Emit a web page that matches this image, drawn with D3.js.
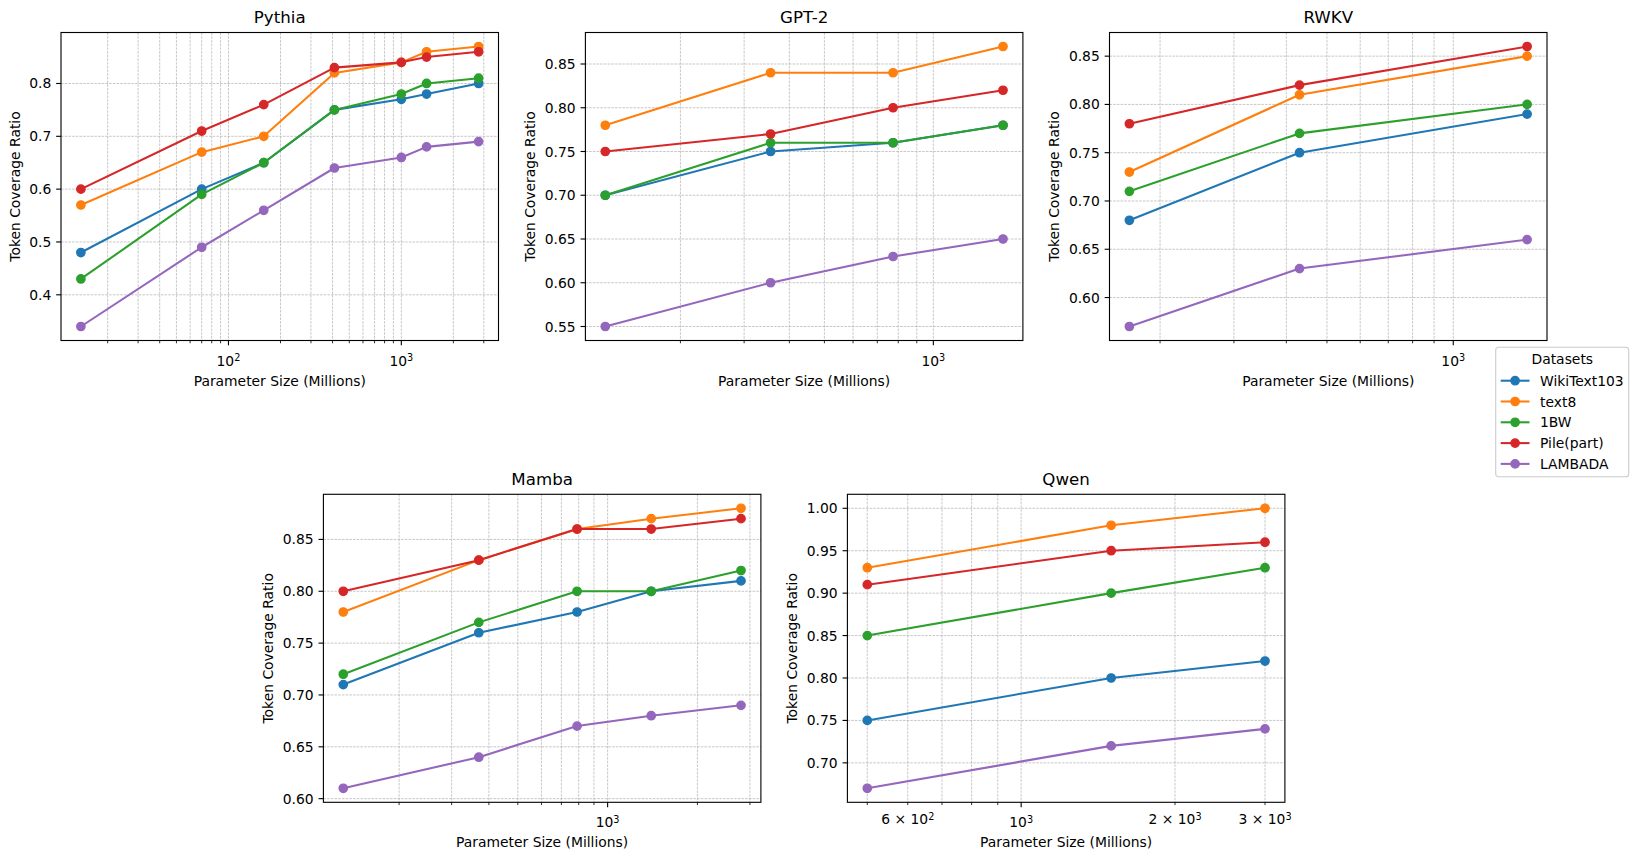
<!DOCTYPE html>
<html>
<head>
<meta charset="utf-8">
<script src="https://cdn.jsdelivr.net/npm/d3@7"></script>
<style>
body { margin: 0; background: #fff; }
text { font-family: "DejaVu Sans", sans-serif; fill: #000; }
</style>
</head>
<body>
<div id="chart"></div>
<script>
const datasets = ['WikiText103', 'text8', '1BW', 'Pile(part)', 'LAMBADA'];
const colors = ['#1f77b4', '#ff7f0e', '#2ca02c', '#d62728', '#9467bd'];

// parameter sizes in millions, per model family
const pythiaSizes = [14, 70, 160, 410, 1000, 1400, 2800];
const gpt2Sizes = [124, 355, 774, 1558];
const rwkvSizes = [169, 430, 1500];
const mambaSizes = [130, 370, 790, 1400, 2800];
const qwenSizes = [500, 1500, 3000];

// token coverage ratio, one row per dataset (same order as datasets)
const pythiaValues = [
    [0.48, 0.60, 0.65, 0.75, 0.77, 0.78, 0.80],
    [0.57, 0.67, 0.70, 0.82, 0.84, 0.86, 0.87],
    [0.43, 0.59, 0.65, 0.75, 0.78, 0.80, 0.81],
    [0.60, 0.71, 0.76, 0.83, 0.84, 0.85, 0.86],
    [0.34, 0.49, 0.56, 0.64, 0.66, 0.68, 0.69]
];
const gpt2Values = [
    [0.70, 0.75, 0.76, 0.78],
    [0.78, 0.84, 0.84, 0.87],
    [0.70, 0.76, 0.76, 0.78],
    [0.75, 0.77, 0.80, 0.82],
    [0.55, 0.60, 0.63, 0.65]
];
const rwkvValues = [
    [0.68, 0.75, 0.79],
    [0.73, 0.81, 0.85],
    [0.71, 0.77, 0.80],
    [0.78, 0.82, 0.86],
    [0.57, 0.63, 0.66]
];
const mambaValues = [
    [0.71, 0.76, 0.78, 0.80, 0.81],
    [0.78, 0.83, 0.86, 0.87, 0.88],
    [0.72, 0.77, 0.80, 0.80, 0.82],
    [0.80, 0.83, 0.86, 0.86, 0.87],
    [0.61, 0.64, 0.67, 0.68, 0.69]
];
const qwenValues = [
    [0.75, 0.80, 0.82],
    [0.93, 0.98, 1.00],
    [0.85, 0.90, 0.93],
    [0.91, 0.95, 0.96],
    [0.67, 0.72, 0.74]
];

// y tick values
const pythiaYTicks = [0.4, 0.5, 0.6, 0.7, 0.8];
const gpt2YTicks = [0.55, 0.60, 0.65, 0.70, 0.75, 0.80, 0.85];
const rwkvYTicks = [0.60, 0.65, 0.70, 0.75, 0.80, 0.85];
const mambaYTicks = [0.60, 0.65, 0.70, 0.75, 0.80, 0.85];
const qwenYTicks = [0.70, 0.75, 0.80, 0.85, 0.90, 0.95, 1.00];

// labelled x ticks
const pythiaXLabels = [100, 1000];
const gpt2XLabels = [1000];
const rwkvXLabels = [1000];
const mambaXLabels = [1000];
const qwenXLabels = [600, 1000, 2000, 3000];

const W = 1639, H = 860;
const pw = 437.5, ph = 308;
const fs = 13.89;

const panels = [
    {title: 'Pythia', sizes: pythiaSizes, values: pythiaValues, yTicks: pythiaYTicks, xLabels: pythiaXLabels, digits: 1, left: 61, top: 32.5},
    {title: 'GPT-2', sizes: gpt2Sizes, values: gpt2Values, yTicks: gpt2YTicks, xLabels: gpt2XLabels, digits: 2, left: 585.4, top: 32.5},
    {title: 'RWKV', sizes: rwkvSizes, values: rwkvValues, yTicks: rwkvYTicks, xLabels: rwkvXLabels, digits: 2, left: 1109.5, top: 32.5},
    {title: 'Mamba', sizes: mambaSizes, values: mambaValues, yTicks: mambaYTicks, xLabels: mambaXLabels, digits: 2, left: 323.4, top: 494.3},
    {title: 'Qwen', sizes: qwenSizes, values: qwenValues, yTicks: qwenYTicks, xLabels: qwenXLabels, digits: 2, left: 847.4, top: 494.3}
];

var svg = d3.select("#chart").append("svg")
    .attr("width", W)
    .attr("height", H);

svg.append("rect").attr("width", W).attr("height", H).attr("fill", "#fff");

panels.forEach(drawPanel);
drawLegend();

function drawPanel(p) {
    var g = svg.append("g").attr("transform", "translate(" + p.left + "," + p.top + ")");

    // 5% padding like matplotlib autoscale (log space for x)
    var lx = p.sizes.map(d => Math.log10(d));
    var lo = d3.min(lx), hi = d3.max(lx), mx = (hi - lo) * 0.05;
    var x = d3.scaleLog()
        .domain([Math.pow(10, lo - mx), Math.pow(10, hi + mx)])
        .range([0, pw]);

    var allV = p.values.flat();
    var vmin = d3.min(allV), vmax = d3.max(allV), my = (vmax - vmin) * 0.05;
    var y = d3.scaleLinear()
        .domain([vmin - my, vmax + my])
        .range([ph, 0]);

    // major + minor log ticks
    var dom = x.domain();
    var xt = [];
    for (var e = Math.floor(Math.log10(dom[0])); e <= Math.ceil(Math.log10(dom[1])); e++) {
        for (var k = 1; k < 10; k++) {
            var v = k * Math.pow(10, e);
            if (v >= dom[0] && v <= dom[1]) xt.push({v: v, major: k === 1});
        }
    }

    // grid
    g.selectAll("line.vgrid")
        .data(xt)
        .enter().append("line")
        .attr("class", "vgrid")
        .attr("x1", d => x(d.v)).attr("x2", d => x(d.v))
        .attr("y1", 0).attr("y2", ph)
        .style("stroke", "#b0b0b0")
        .style("stroke-width", 0.7)
        .style("stroke-dasharray", "2.6 1.1");

    g.selectAll("line.hgrid")
        .data(p.yTicks)
        .enter().append("line")
        .attr("class", "hgrid")
        .attr("x1", 0).attr("x2", pw)
        .attr("y1", d => y(d)).attr("y2", d => y(d))
        .style("stroke", "#b0b0b0")
        .style("stroke-width", 0.7)
        .style("stroke-dasharray", "2.6 1.1");

    // series
    var line = d3.line()
        .x((d, i) => x(p.sizes[i]))
        .y(d => y(d));

    p.values.forEach(function(vals, si) {
        g.append("path")
            .datum(vals)
            .attr("d", line)
            .style("fill", "none")
            .style("stroke", colors[si])
            .style("stroke-width", 2.08)
            .style("stroke-linejoin", "round");

        g.selectAll(".pt" + si)
            .data(vals)
            .enter().append("circle")
            .attr("class", "pt" + si)
            .attr("cx", (d, i) => x(p.sizes[i]))
            .attr("cy", d => y(d))
            .attr("r", 4.17)
            .style("fill", colors[si])
            .style("stroke", colors[si])
            .style("stroke-width", 1.39);
    });

    // frame
    g.append("rect")
        .attr("width", pw).attr("height", ph)
        .style("fill", "none")
        .style("stroke", "#000")
        .style("stroke-width", 1.11);

    // x ticks
    g.selectAll("line.xtick")
        .data(xt)
        .enter().append("line")
        .attr("class", "xtick")
        .attr("x1", d => x(d.v)).attr("x2", d => x(d.v))
        .attr("y1", ph).attr("y2", d => ph + (d.major ? 4.86 : 2.78))
        .style("stroke", "#000")
        .style("stroke-width", d => d.major ? 1.11 : 0.83);

    p.xLabels.forEach(function(v) {
        var e = Math.floor(Math.log10(v) + 1e-9);
        var m = Math.round(v / Math.pow(10, e));
        var t = g.append("text")
            .attr("x", x(v))
            .attr("y", ph + (m === 1 ? 25 : 21.6))
            .style("font-size", fs + "px")
            .style("text-anchor", "middle");
        t.append("tspan").text(m === 1 ? "10" : m + " \u00d7 10");
        t.append("tspan").attr("dy", "-0.45em").style("font-size", "9.7px").text(e);
    });

    // y ticks
    g.selectAll("line.ytick")
        .data(p.yTicks)
        .enter().append("line")
        .attr("class", "ytick")
        .attr("x1", -4.86).attr("x2", 0)
        .attr("y1", d => y(d)).attr("y2", d => y(d))
        .style("stroke", "#000")
        .style("stroke-width", 1.11);

    var maxW = 0;
    g.selectAll("text.ylab")
        .data(p.yTicks)
        .enter().append("text")
        .attr("class", "ylab")
        .attr("x", -9.72)
        .attr("y", d => y(d))
        .attr("dy", "0.36em")
        .style("font-size", fs + "px")
        .style("text-anchor", "end")
        .text(d => d.toFixed(p.digits))
        .each(function() { maxW = Math.max(maxW, this.getComputedTextLength()); });

    g.append("text")
        .attr("transform", "translate(" + (-9.72 - maxW - 9.6) + "," + (ph / 2) + ") rotate(-90)")
        .style("font-size", fs + "px")
        .style("text-anchor", "middle")
        .text("Token Coverage Ratio");

    g.append("text")
        .attr("x", pw / 2)
        .attr("y", ph + 45)
        .style("font-size", fs + "px")
        .style("text-anchor", "middle")
        .text("Parameter Size (Millions)");

    g.append("text")
        .attr("x", pw / 2)
        .attr("y", -9.5)
        .style("font-size", "16.67px")
        .style("text-anchor", "middle")
        .text(p.title);
}

function drawLegend() {
    var lg = svg.append("g").attr("transform", "translate(1495.7,347.3)");

    lg.append("rect")
        .attr("width", 133).attr("height", 129.4)
        .attr("rx", 2.8)
        .style("fill", "#fff")
        .style("fill-opacity", 0.8)
        .style("stroke", "#cccccc")
        .style("stroke-width", 1.11);

    lg.append("text")
        .attr("x", 66.6)
        .attr("y", 11.7)
        .attr("dy", "0.36em")
        .style("font-size", fs + "px")
        .style("text-anchor", "middle")
        .text("Datasets");

    var rows = lg.selectAll("g.row")
        .data(datasets)
        .enter().append("g")
        .attr("class", "row")
        .attr("transform", (d, i) => "translate(0," + (33.4 + i * 20.8) + ")");

    rows.append("line")
        .attr("x1", 5).attr("x2", 33.8)
        .style("stroke", (d, i) => colors[i])
        .style("stroke-width", 2.08);

    rows.append("circle")
        .attr("cx", 19.4)
        .attr("r", 4.17)
        .style("fill", (d, i) => colors[i])
        .style("stroke", (d, i) => colors[i])
        .style("stroke-width", 1.39);

    rows.append("text")
        .attr("x", 44.3)
        .attr("dy", "0.36em")
        .style("font-size", fs + "px")
        .text(d => d);
}
</script>
</body>
</html>
